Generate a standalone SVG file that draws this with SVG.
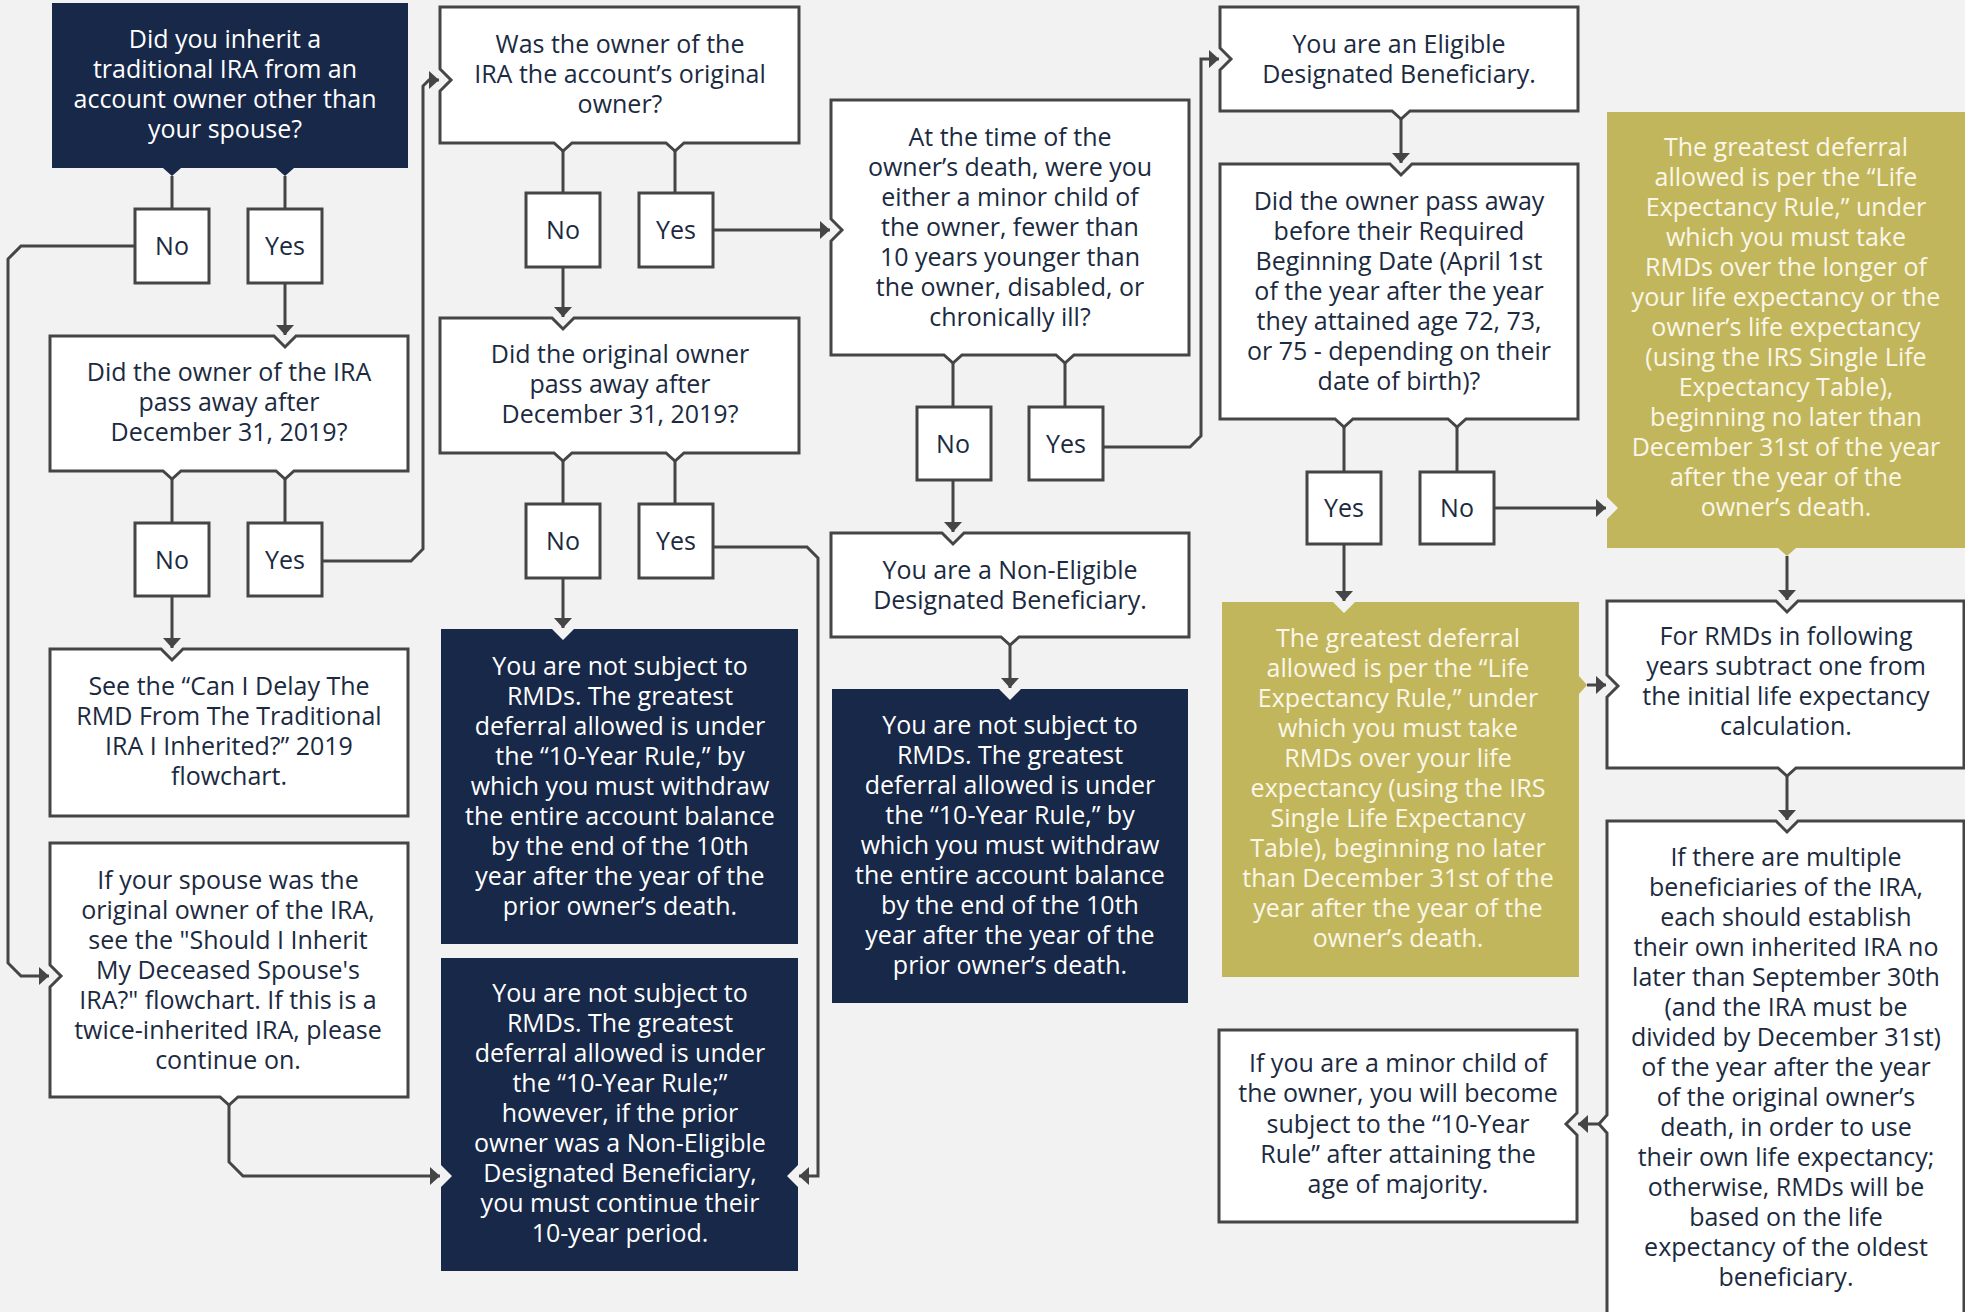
<svg xmlns="http://www.w3.org/2000/svg" width="1965" height="1312" viewBox="0 0 1965 1312">
<style>
.w{fill:#ffffff;stroke:#454545;stroke-width:3}
.d{fill:#172849}
.g{fill:#c2b65d}
.c{fill:none;stroke:#454545;stroke-width:3;marker-end:url(#ah)}
.cn{fill:none;stroke:#454545;stroke-width:3}
text{font-family:"Open Sans","Liberation Sans",sans-serif;font-size:25px;text-anchor:middle}
.tw text,text.tw{fill:#1b2a40}
.td text{fill:#ffffff}
.tg text{fill:#faf7e8}
</style>
<defs>
<marker id="ah" viewBox="0 0 10 18" refX="10" refY="9" markerWidth="10" markerHeight="18" markerUnits="userSpaceOnUse" orient="auto">
<path d="M0,0 L10,9 L0,18 Z" fill="#454545"/>
</marker>
</defs>
<rect width="1965" height="1312" fill="#f2f2f2"/>

<g id="connectors">
<path class="cn" d="M172,176 V209"/>
<path class="cn" d="M285,176 V209"/>
<path class="c" d="M135,246 H21 L8,259 V963 L21,976 H49"/>
<path class="c" d="M285,283 V335"/>
<path class="cn" d="M172,479 V523"/>
<path class="cn" d="M285,479 V523"/>
<path class="c" d="M172,596 V648"/>
<path class="c" d="M322,561 H411 L423,549 V86 L429,80 H439"/>
<path class="c" d="M229,1105 V1162 L243,1176 H440"/>
<path class="cn" d="M563,151 V193"/>
<path class="cn" d="M675,151 V193"/>
<path class="c" d="M713,230 H830"/>
<path class="c" d="M563,267 V317"/>
<path class="cn" d="M563,461 V504"/>
<path class="cn" d="M675,461 V504"/>
<path class="c" d="M563,578 V628"/>
<path class="c" d="M713,547 H807 L818,558 V1176 H799"/>
<path class="cn" d="M953,363 V407"/>
<path class="cn" d="M1065,363 V407"/>
<path class="c" d="M953,480 V532"/>
<path class="c" d="M1103,447 H1190 L1201,436 V59 H1219"/>
<path class="c" d="M1010,645 V688"/>
<path class="c" d="M1401,119 V163"/>
<path class="cn" d="M1344,427 V472"/>
<path class="cn" d="M1457,427 V472"/>
<path class="c" d="M1344,544 V601"/>
<path class="c" d="M1494,508 H1606"/>
<path class="c" d="M1587,685 H1606"/>
<path class="c" d="M1787,556 V600"/>
<path class="c" d="M1787,776 V820"/>
<path class="c" d="M1599,1124 H1578"/>
</g>

<g id="q1" class="td">
<path class="d" d="M52,3 H408 V168 H294 L285,176 L276,168 H181 L172,176 L163,168 H52 Z"/>
<text x="225" y="48">Did you inherit a</text>
<text x="225" y="78">traditional IRA from an</text>
<text x="225" y="108">account owner other than</text>
<text x="225" y="138">your spouse?</text>
</g>
<g id="q1-no" class="tw"><rect class="w" x="135" y="209" width="74" height="74"/><text x="172" y="255">No</text></g>
<g id="q1-yes" class="tw"><rect class="w" x="248" y="209" width="74" height="74"/><text x="285" y="255">Yes</text></g>

<g id="q2" class="tw">
<path class="w" d="M50,336 H274 L285,347 L296,336 H408 V471 H294 L285,479 L276,471 H181 L172,479 L163,471 H50 Z"/>
<text x="229" y="381">Did the owner of the IRA</text>
<text x="229" y="411">pass away after</text>
<text x="229" y="441">December 31, 2019?</text>
</g>
<g id="q2-no" class="tw"><rect class="w" x="135" y="523" width="74" height="73"/><text x="172" y="569">No</text></g>
<g id="q2-yes" class="tw"><rect class="w" x="248" y="523" width="74" height="73"/><text x="285" y="569">Yes</text></g>

<g id="see2019" class="tw">
<path class="w" d="M50,649 H161 L172,660 L183,649 H408 V816 H50 Z"/>
<text x="229" y="695">See the “Can I Delay The</text>
<text x="229" y="725">RMD From The Traditional</text>
<text x="229" y="755">IRA I Inherited?” 2019</text>
<text x="229" y="785">flowchart.</text>
</g>

<g id="spouse" class="tw">
<path class="w" d="M50,843 H408 V1097 H238 L229,1105 L220,1097 H50 V987 L61,976 L50,965 Z"/>
<text x="228" y="889">If your spouse was the</text>
<text x="228" y="919">original owner of the IRA,</text>
<text x="228" y="949">see the "Should I Inherit</text>
<text x="228" y="979">My Deceased Spouse's</text>
<text x="228" y="1009">IRA?" flowchart. If this is a</text>
<text x="228" y="1039">twice-inherited IRA, please</text>
<text x="228" y="1069">continue on.</text>
</g>

<g id="q3" class="tw">
<path class="w" d="M440,7 H799 V143 H684 L675,151 L666,143 H572 L563,151 L554,143 H440 V91 L451,80 L440,69 Z"/>
<text x="620" y="53">Was the owner of the</text>
<text x="620" y="83">IRA the account’s original</text>
<text x="620" y="113">owner?</text>
</g>
<g id="q3-no" class="tw"><rect class="w" x="526" y="193" width="74" height="74"/><text x="563" y="239">No</text></g>
<g id="q3-yes" class="tw"><rect class="w" x="639" y="193" width="74" height="74"/><text x="676" y="239">Yes</text></g>

<g id="q4" class="tw">
<path class="w" d="M440,318 H552 L563,329 L574,318 H799 V453 H684 L675,461 L666,453 H572 L563,461 L554,453 H440 Z"/>
<text x="620" y="363">Did the original owner</text>
<text x="620" y="393">pass away after</text>
<text x="620" y="423">December 31, 2019?</text>
</g>
<g id="q4-no" class="tw"><rect class="w" x="526" y="504" width="74" height="74"/><text x="563" y="550">No</text></g>
<g id="q4-yes" class="tw"><rect class="w" x="639" y="504" width="74" height="74"/><text x="676" y="550">Yes</text></g>

<g id="r10a" class="td">
<path class="d" d="M441,629 H552 L563,640 L574,629 H798 V944 H441 Z"/>
<text x="620" y="675">You are not subject to</text>
<text x="620" y="705">RMDs. The greatest</text>
<text x="620" y="735">deferral allowed is under</text>
<text x="620" y="765">the “10-Year Rule,” by</text>
<text x="620" y="795">which you must withdraw</text>
<text x="620" y="825">the entire account balance</text>
<text x="620" y="855">by the end of the 10th</text>
<text x="620" y="885">year after the year of the</text>
<text x="620" y="915">prior owner’s death.</text>
</g>

<g id="r10b" class="td">
<path class="d" d="M441,958 H798 V1165 L787,1176 L798,1187 V1271 H441 V1187 L452,1176 L441,1165 Z"/>
<text x="620" y="1002">You are not subject to</text>
<text x="620" y="1032">RMDs. The greatest</text>
<text x="620" y="1062">deferral allowed is under</text>
<text x="620" y="1092">the “10-Year Rule;”</text>
<text x="620" y="1122">however, if the prior</text>
<text x="620" y="1152">owner was a Non-Eligible</text>
<text x="620" y="1182">Designated Beneficiary,</text>
<text x="620" y="1212">you must continue their</text>
<text x="620" y="1242">10-year period.</text>
</g>

<g id="q5" class="tw">
<path class="w" d="M831,100 H1189 V355 H1074 L1065,363 L1056,355 H962 L953,363 L944,355 H831 V241 L842,230 L831,219 Z"/>
<text x="1010" y="146">At the time of the</text>
<text x="1010" y="176">owner’s death, were you</text>
<text x="1010" y="206">either a minor child of</text>
<text x="1010" y="236">the owner, fewer than</text>
<text x="1010" y="266">10 years younger than</text>
<text x="1010" y="296">the owner, disabled, or</text>
<text x="1010" y="326">chronically ill?</text>
</g>
<g id="q5-no" class="tw"><rect class="w" x="917" y="407" width="74" height="73"/><text x="953" y="453">No</text></g>
<g id="q5-yes" class="tw"><rect class="w" x="1029" y="407" width="74" height="73"/><text x="1066" y="453">Yes</text></g>

<g id="nedb" class="tw">
<path class="w" d="M831,533 H942 L953,544 L964,533 H1189 V637 H1019 L1010,645 L1001,637 H831 Z"/>
<text x="1010" y="579">You are a Non-Eligible</text>
<text x="1010" y="609">Designated Beneficiary.</text>
</g>

<g id="r10c" class="td">
<path class="d" d="M832,689 H999 L1010,700 L1021,689 H1188 V1003 H832 Z"/>
<text x="1010" y="734">You are not subject to</text>
<text x="1010" y="764">RMDs. The greatest</text>
<text x="1010" y="794">deferral allowed is under</text>
<text x="1010" y="824">the “10-Year Rule,” by</text>
<text x="1010" y="854">which you must withdraw</text>
<text x="1010" y="884">the entire account balance</text>
<text x="1010" y="914">by the end of the 10th</text>
<text x="1010" y="944">year after the year of the</text>
<text x="1010" y="974">prior owner’s death.</text>
</g>

<g id="edb" class="tw">
<path class="w" d="M1220,7 H1578 V111 H1410 L1401,119 L1392,111 H1220 V70 L1231,59 L1220,48 Z"/>
<text x="1399" y="53">You are an Eligible</text>
<text x="1399" y="83">Designated Beneficiary.</text>
</g>

<g id="q6" class="tw">
<path class="w" d="M1220,164 H1390 L1401,175 L1412,164 H1578 V419 H1466 L1457,427 L1448,419 H1353 L1344,427 L1335,419 H1220 Z"/>
<text x="1399" y="210">Did the owner pass away</text>
<text x="1399" y="240">before their Required</text>
<text x="1399" y="270">Beginning Date (April 1st</text>
<text x="1399" y="300">of the year after the year</text>
<text x="1399" y="330">they attained age 72, 73,</text>
<text x="1399" y="360">or 75 - depending on their</text>
<text x="1399" y="390">date of birth)?</text>
</g>
<g id="q6-yes" class="tw"><rect class="w" x="1307" y="472" width="74" height="72"/><text x="1344" y="517">Yes</text></g>
<g id="q6-no" class="tw"><rect class="w" x="1420" y="472" width="74" height="72"/><text x="1457" y="517">No</text></g>

<g id="le1" class="tg">
<path class="g" d="M1222,602 H1333 L1344,613 L1355,602 H1579 V676 L1587,685 L1579,694 V977 H1222 Z"/>
<text x="1398" y="647">The greatest deferral</text>
<text x="1398" y="677">allowed is per the “Life</text>
<text x="1398" y="707">Expectancy Rule,” under</text>
<text x="1398" y="737">which you must take</text>
<text x="1398" y="767">RMDs over your life</text>
<text x="1398" y="797">expectancy (using the IRS</text>
<text x="1398" y="827">Single Life Expectancy</text>
<text x="1398" y="857">Table), beginning no later</text>
<text x="1398" y="887">than December 31st of the</text>
<text x="1398" y="917">year after the year of the</text>
<text x="1398" y="947">owner’s death.</text>
</g>

<g id="le2" class="tg">
<path class="g" d="M1607,112 H1966 V548 H1796 L1787,556 L1778,548 H1607 V519 L1618,508 L1607,497 Z"/>
<text x="1786" y="156">The greatest deferral</text>
<text x="1786" y="186">allowed is per the “Life</text>
<text x="1786" y="216">Expectancy Rule,” under</text>
<text x="1786" y="246">which you must take</text>
<text x="1786" y="276">RMDs over the longer of</text>
<text x="1786" y="306">your life expectancy or the</text>
<text x="1786" y="336">owner’s life expectancy</text>
<text x="1786" y="366">(using the IRS Single Life</text>
<text x="1786" y="396">Expectancy Table),</text>
<text x="1786" y="426">beginning no later than</text>
<text x="1786" y="456">December 31st of the year</text>
<text x="1786" y="486">after the year of the</text>
<text x="1786" y="516">owner’s death.</text>
</g>

<g id="following" class="tw">
<path class="w" d="M1607,601 H1776 L1787,612 L1798,601 H1964 V768 H1796 L1787,776 L1778,768 H1607 V697 L1618,686 L1607,675 Z"/>
<text x="1786" y="645">For RMDs in following</text>
<text x="1786" y="675">years subtract one from</text>
<text x="1786" y="705">the initial life expectancy</text>
<text x="1786" y="735">calculation.</text>
</g>

<g id="multiple" class="tw">
<path class="w" d="M1607,821 H1776 L1787,832 L1798,821 H1964 V1320 H1607 V1133 L1599,1124 L1607,1115 Z"/>
<text x="1786" y="866">If there are multiple</text>
<text x="1786" y="896">beneficiaries of the IRA,</text>
<text x="1786" y="926">each should establish</text>
<text x="1786" y="956">their own inherited IRA no</text>
<text x="1786" y="986">later than September 30th</text>
<text x="1786" y="1016">(and the IRA must be</text>
<text x="1786" y="1046">divided by December 31st)</text>
<text x="1786" y="1076">of the year after the year</text>
<text x="1786" y="1106">of the original owner’s</text>
<text x="1786" y="1136">death, in order to use</text>
<text x="1786" y="1166">their own life expectancy;</text>
<text x="1786" y="1196">otherwise, RMDs will be</text>
<text x="1786" y="1226">based on the life</text>
<text x="1786" y="1256">expectancy of the oldest</text>
<text x="1786" y="1286">beneficiary.</text>
</g>

<g id="minor" class="tw">
<path class="w" d="M1219,1030 H1577 V1113 L1566,1124 L1577,1135 V1222 H1219 Z"/>
<text x="1398" y="1072">If you are a minor child of</text>
<text x="1398" y="1102">the owner, you will become</text>
<text x="1398" y="1133">subject to the “10-Year</text>
<text x="1398" y="1163">Rule” after attaining the</text>
<text x="1398" y="1193">age of majority.</text>
</g>
</svg>
